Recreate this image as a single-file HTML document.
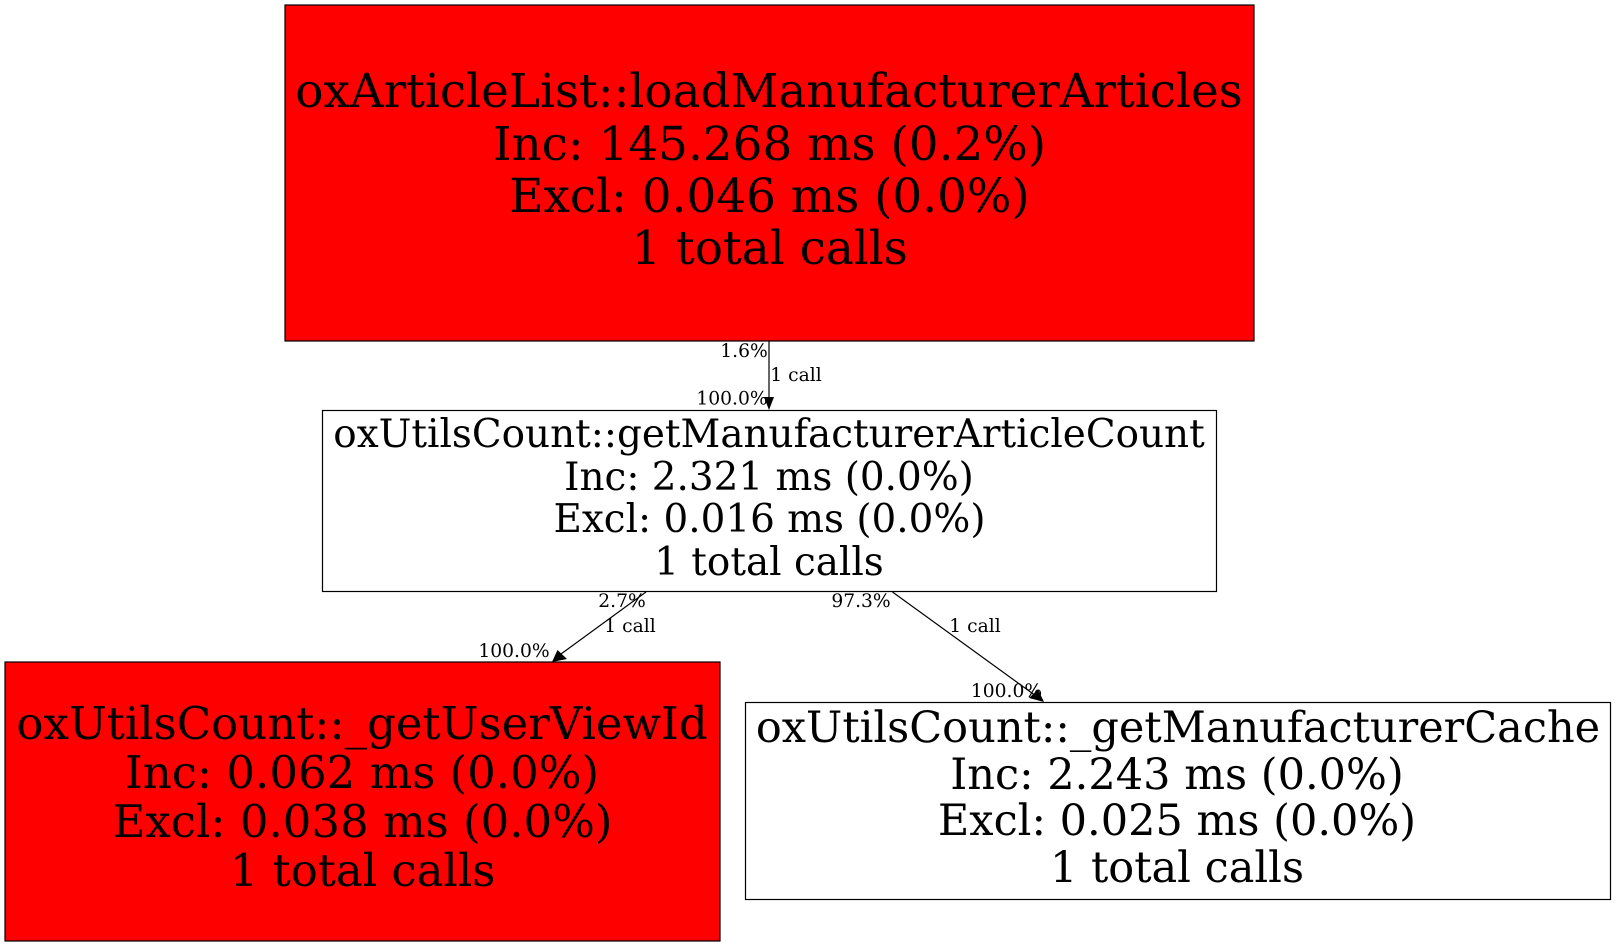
<!DOCTYPE html>
<html><head><meta charset="utf-8"><style>
html,body{margin:0;padding:0;background:#fff}
svg{display:block}
text{font-family:"DejaVu Serif",serif;text-anchor:middle;fill:#000}
.s{font-size:18.700px}
</style></head><body>
<svg width="1616" height="947" viewBox="0 0 1616 947" xmlns="http://www.w3.org/2000/svg">
<rect x="0" y="0" width="1616" height="947" fill="#fff"/>
<g stroke="#000" stroke-width="1.2">
<rect x="285" y="5" width="969" height="336" fill="#f00"/>
<rect x="322.500" y="410.500" width="894" height="181" fill="#fff"/>
<rect x="5" y="662" width="715" height="279" fill="#f00"/>
<rect x="745.500" y="702.500" width="865" height="197" fill="#fff"/>
<line x1="769" y1="341" x2="769" y2="398"/>
<line x1="646" y1="592" x2="561" y2="654"/>
<line x1="892.500" y1="592" x2="1036" y2="696"/>
</g>
<polygon points="764,397 774,397 769,410" fill="#000"/>
<polygon points="552,662 557.500,650 567,659" fill="#000"/>
<polygon points="1044,702 1029,698 1038,689.500" fill="#000"/>
<g font-size="46.850">
<text x="769" y="107">oxArticleList::loadManufacturerArticles</text>
<text x="769.500" y="160">Inc: 145.268 ms (0.2%)</text>
<text x="769.500" y="212">Excl: 0.046 ms (0.0%)</text>
<text x="769.500" y="264">1 total calls</text>
</g>
<g font-size="38.900">
<text x="769" y="447">oxUtilsCount::getManufacturerArticleCount</text>
<text x="769" y="490">Inc: 2.321 ms (0.0%)</text>
<text x="769.500" y="532">Excl: 0.016 ms (0.0%)</text>
<text x="769" y="575">1 total calls</text>
</g>
<g font-size="45">
<text x="362" y="739">oxUtilsCount::_getUserViewId</text>
<text x="362" y="788">Inc: 0.062 ms (0.0%)</text>
<text x="362.500" y="837">Excl: 0.038 ms (0.0%)</text>
<text x="362.500" y="886">1 total calls</text>
</g>
<g font-size="43.050">
<text x="1178" y="742">oxUtilsCount::_getManufacturerCache</text>
<text x="1177" y="789">Inc: 2.243 ms (0.0%)</text>
<text x="1177" y="835">Excl: 0.025 ms (0.0%)</text>
<text x="1177" y="882">1 total calls</text>
</g>
<g class="s">
<text x="744" y="357">1.6%</text>
<text x="732" y="404.500">100.0%</text>
<text x="796" y="381">1 call</text>
<text x="622" y="607">2.7%</text>
<text x="630" y="632">1 call</text>
<text x="514" y="657">100.0%</text>
<text x="861" y="607">97.3%</text>
<text x="975" y="632">1 call</text>
<text x="1006.500" y="697">100.0%</text>
</g>
</svg>
</body></html>
